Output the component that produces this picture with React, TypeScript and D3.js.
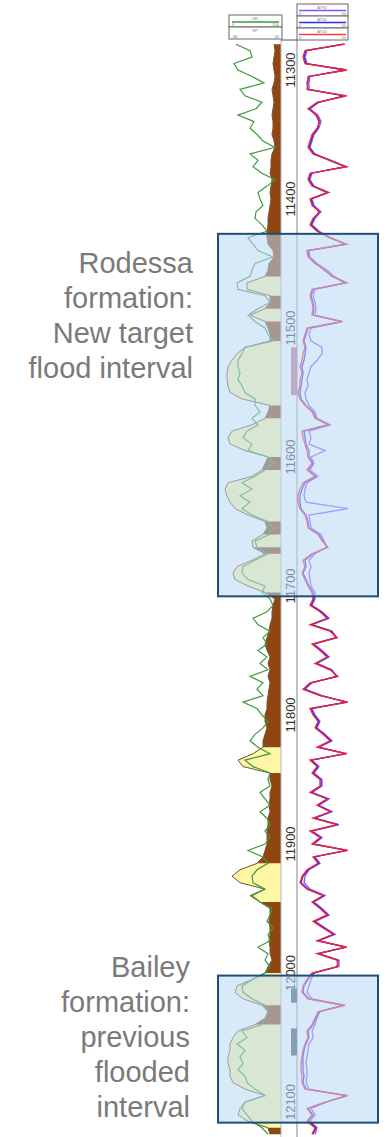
import React from 'react';
import * as d3 from 'd3';

// sample depths (ft), 5 ft spacing
const DEPTH = d3.range(11280, 12126, 5);

// gamma ray (API)
const GR = [
  21, 63, 69, 15, 27, 69, 105, 33, 48, 99, 81, 27,
  75, 63, 84, 102, 138, 63, 87, 72, 99, 138, 114, 87, 93, 102, 81, 78, 99, 114,
  57, 72, 87, 132, 78, 69, 63, 24, 27, 108, 123, 87, 57, 78, 108, 117, 132, 48, 39, 27, 27, 33, 27, 39, 48, 78,
  78, 93, 69, 87, 54, 42, 69, 57, 117, 132, 108, 78, 39, 69, 33, 63, 39, 69, 117, 132, 123, 78, 84, 117, 78, 42, 39, 57, 108, 99,
  123, 132, 114, 72, 87, 123, 102, 114, 87, 114, 93, 117, 63, 102, 84, 102, 42, 84, 99, 117, 102, 78, 63, 87, 123, 48, 72, 123, 117,
  123, 93, 108, 123, 93, 114, 123, 108, 123, 108, 57, 102, 117, 84, 69, 72, 108, 69, 93, 129, 123, 114, 132, 117, 123, 87, 117, 108,
  123, 108, 72, 39, 42, 69, 108, 117, 108, 99, 39, 54, 24, 48, 33, 42, 27, 48, 54, 78, 108, 48, 39, 54, 69, 99, 117,
];

// spontaneous potential (mV)
const SP = [
  10, 12, 10, 8, 10, 12, 10, 6, 8, 10, 8, 6, 8, 8, 6, 10, 12, 6, 4, 4, 2, 6, 4, 2, 4, 2, 0, -2, -2, -4,
  -4, -2, 8, 10, 0, -2, -8, -44, -44, 2, 2, -8, -38, -8, -2, 2, 2, -48, -64, -74, -82, -84, -84, -82, -78, -54,
  2, -2, -8, -34, -74, -82, -78, -48, -2, -8, -14, -34, -82, -88, -84, -78, -68, -42, -8, -4, -12, -34, -32, -8, -34, -64, -72, -68, -42, -8,
  12, 8, 6, 6, 2, 0, -4, -8, -4, 2, -2, 2, -2, 2, 0, -2, -4, -4, -8, -8, -4, -8, -12, -12, -32, -62, -52, 2, 2,
  6, 2, 2, 0, 2, -2, -2, -4, -4, -4, -8, -12, -24, -58, -74, -58, -8, -38, -18, 2, 2, 0, 2, 2, 0, 2, 2, 6,
  -2, -8, -34, -64, -68, -52, -14, -2, -8, -28, -62, -72, -78, -78, -82, -82, -78, -78, -72, -48, -8, -48, -58, -62, -42, -2, 2,
];
const SAND_CUTOFF = -20;

// resistivity (ohm.m): deep (purple), medium (blue), shallow (red)
const RES_DEEP = [
  46, 10, 8, 10, 48, 13, 12, 12, 47, 22, 13, 21,
  24, 22, 17, 15, 13, 18, 32, 48, 15, 13, 17, 32, 15, 17, 24, 18, 15, 22,
  34, 48, 12, 13, 20, 30, 37, 49, 18, 16, 18, 19, 18, 46, 14, 12, 14, 25, 25, 20, 14, 12, 10, 11, 8, 9,
  12, 18, 20, 33, 12, 14, 12, 28, 14, 17, 13, 21, 10, 8, 7, 9, 51, 12, 13, 14, 24, 27, 30, 18, 12, 14, 12, 13, 14, 18,
  18, 15, 25, 32, 15, 35, 40, 17, 25, 32, 20, 35, 39, 15, 8, 25, 49, 15, 18, 23, 20, 28, 35, 22, 48, 15, 22, 17, 25,
  25, 15, 32, 22, 35, 18, 42, 15, 25, 17, 49, 18, 23, 12, 8, 7, 13, 28, 17, 25, 32, 18, 28, 38, 22, 48, 22, 42,
  42, 17, 14, 12, 10, 15, 46, 23, 20, 18, 15, 16, 12, 11, 10, 9, 10, 10, 9, 12, 49, 30, 14, 18, 13, 20, 18,
];
const RES_MED = [
  47, 9, 7, 9, 49, 12, 10, 11, 48, 21, 12, 19,
  22, 21, 16, 14, 12, 17, 34, 49, 14, 12, 16, 30, 14, 16, 22, 17, 14, 21,
  32, 49, 11, 12, 19, 27, 36, 48, 16, 14, 16, 17, 16, 44, 11, 9, 7, 9, 8, 7, 5, 6, 5, 4, 3, 4,
  9, 16, 19, 32, 7, 8, 9, 12, 12, 16, 11, 19, 8, 5, 3, 3, 4, 9, 11, 12, 22, 26, 30, 16, 8, 9, 6, 9, 12, 16,
  17, 14, 24, 31, 14, 34, 39, 16, 24, 31, 19, 34, 40, 14, 7, 24, 50, 14, 17, 22, 19, 27, 34, 21, 49, 14, 21, 16, 24,
  24, 14, 31, 21, 34, 17, 41, 14, 24, 16, 50, 17, 22, 11, 6, 4, 11, 27, 16, 24, 31, 17, 27, 37, 21, 49, 21, 41,
  40, 16, 11, 7, 6, 12, 47, 22, 19, 16, 11, 12, 9, 7, 6, 6, 6, 7, 6, 9, 50, 29, 11, 16, 11, 19, 16,
];
const RES_SHALLOW = [
  48, 8, 6, 8, 50, 11, 11, 10, 50, 20, 11, 20,
  23, 20, 15, 13, 11, 16, 33, 50, 13, 11, 15, 31, 13, 15, 23, 16, 13, 20,
  33, 50, 10, 11, 18, 28, 35, 50, 15, 13, 15, 16, 15, 45, 10, 8, 6, 8, 6, 5, 3, 5, 3, 3, 1, 3,
  8, 15, 18, 31, 5, 6, 8, 10, 11, 15, 10, 18, 6, 3, 1, 1, 3, 8, 10, 11, 21, 25, 31, 15, 6, 8, 5, 8, 11, 15,
  16, 13, 23, 30, 13, 33, 40, 15, 23, 30, 18, 33, 41, 13, 6, 23, 51, 13, 16, 21, 18, 26, 33, 20, 50, 13, 20, 15, 23,
  23, 13, 30, 20, 33, 16, 40, 13, 23, 15, 51, 16, 21, 10, 5, 3, 10, 26, 15, 23, 30, 16, 26, 36, 20, 50, 20, 40,
  41, 15, 10, 6, 5, 11, 48, 21, 18, 15, 10, 11, 8, 6, 5, 4, 4, 5, 5, 8, 51, 28, 10, 15, 10, 18, 15,
];

const DEPTH_TICKS = [11300, 11400, 11500, 11600, 11700, 11800, 11900, 12000, 12100];

// formation intervals highlighted
const ZONE_TOPS = [11427, 12002];
const ZONE_BASES = [11708, 12116];
const ZONE_LABELS = [
  ['Rodessa', 'formation:', 'New target', 'flood interval'],
  ['Bailey', 'formation:', 'previous', 'flooded', 'interval'],
];

// perforation intervals
const PERF_TOPS = [11515, 12012, 12043];
const PERF_BASES = [11552, 12023, 12064];

const W = 390;
const H = 1137;
const TRACK_TOP = 40;
const LEFT_R = 281;
const DEPTH_R = 297;

const y = d3.scaleLinear().domain([11300, 12100]).range([70, 1102]);
const xGR = d3.scaleLinear().domain([0, 150]).range([229, 279]);
const xSP = d3.scaleLinear().domain([-80, 20]).range([229, 279]);
const xRes = d3.scaleLinear().domain([0, 50]).range([297, 347]);

const idx = DEPTH.map((_, i) => i);

const curve = (vals: number[], sx: d3.ScaleLinear<number, number>) =>
  d3.line<number>().x(i => sx(vals[i])).y(i => y(DEPTH[i]))(idx) || '';

const spArea = d3.area<number>()
  .x0(i => xSP(SP[i]))
  .x1(LEFT_R)
  .y(i => y(DEPTH[i]));

// group consecutive sand segments into runs
const sandRuns: number[][] = [];
let run: number[] | null = null;
for (let i = 0; i < DEPTH.length - 1; i++) {
  const sand = (SP[i] + SP[i + 1]) / 2 < SAND_CUTOFF;
  if (sand) {
    if (!run) { run = [i]; sandRuns.push(run); }
    run.push(i + 1);
  } else {
    run = null;
  }
}

const FONT = 'Liberation Sans, Arial, sans-serif';

export default function App() {
  const zoneFill = 'rgba(186,216,246,0.56)';
  return (
    <svg width={W} height={H} viewBox={`0 0 ${W} ${H}`}
      style={{ position: 'absolute', left: 0, top: 0, background: '#fff' }}>
      <defs>
        <linearGradient id="spGrad" x1="0" x2="1" y1="0" y2="0">
          <stop offset="0" stopColor="#fbf0d0" />
          <stop offset="1" stopColor="#9a5518" />
        </linearGradient>
      </defs>

      {/* left track: SP shading + GR */}
      <path d={spArea(idx) || ''} fill="#8f4610" />
      {sandRuns.map((r, k) => (
        <path key={k} d={spArea(r) || ''} fill="#fff7a6" />
      ))}
      <path d={curve(SP, xSP)} fill="none" stroke="#7a5636" strokeWidth={1} />
      <path d={curve(GR, xGR)} fill="none" stroke="#3d9b3d" strokeWidth={1.2} />

      {/* depth track */}
      <line x1={LEFT_R} x2={LEFT_R} y1={TRACK_TOP} y2={H} stroke="#b8b8b8" />
      <line x1={DEPTH_R} x2={DEPTH_R} y1={TRACK_TOP} y2={H} stroke="#9a9a9a" strokeWidth={1.2} />
      <line x1={LEFT_R} x2={DEPTH_R} y1={TRACK_TOP} y2={TRACK_TOP} stroke="#555" />
      {DEPTH_TICKS.map(d => (
        <text key={d} transform={`translate(290,${y(d)}) rotate(-90)`} textAnchor="middle"
          dominantBaseline="central" fontSize={13} fontFamily={FONT} fill="#333">{d}</text>
      ))}
      {PERF_TOPS.map((t, k) => (
        <rect key={k} x={291} width={6} y={y(t)} height={y(PERF_BASES[k]) - y(t)}
          fill={k === 0 ? '#c07090' : '#4a555c'} />
      ))}

      {/* right track: resistivity */}
      <path d={curve(RES_DEEP, xRes)} fill="none" stroke="#8a4dff" strokeWidth={1.3} />
      <path d={curve(RES_MED, xRes)} fill="none" stroke="#2a2aff" strokeWidth={1.3} />
      <path d={curve(RES_SHALLOW, xRes)} fill="none" stroke="#ff2222" strokeWidth={1.3} />

      {/* headers */}
      <g fontFamily={FONT} fontSize={4} fill="#777" textAnchor="middle">
        <rect x={229} y={15} width={53} height={12} fill="#fff" stroke="#666" />
        <rect x={229} y={27} width={53} height={12} fill="#fff" stroke="#666" />
        <text x={255} y={19.5}>GR</text>
        <line x1={232} x2={279} y1={22} y2={22} stroke="#3d9b3d" strokeWidth={1.6} />
        <text x={232} y={26} textAnchor="start">0</text>
        <text x={279} y={26} textAnchor="end">150</text>
        <text x={255} y={31.5}>SP</text>
        <line x1={232} x2={279} y1={34} y2={34} stroke="url(#spGrad)" strokeWidth={1.6} />
        <text x={232} y={38} textAnchor="start">-80</text>
        <text x={279} y={38} textAnchor="end">20</text>
        {['AT90', 'AT30', 'AT10'].map((lab, k) => (
          <g key={lab}>
            <rect x={297} y={4 + k * 12} width={51} height={12} fill="#fff" stroke="#666" />
            <text x={322} y={8.5 + k * 12}>{lab}</text>
            <line x1={299} x2={346} y1={10.5 + k * 12} y2={10.5 + k * 12}
              stroke={['#8a4dff', '#2a2aff', '#ff3b3b'][k]} strokeWidth={1.6} />
            <text x={299} y={15 + k * 12} textAnchor="start">0</text>
            <text x={346} y={15 + k * 12} textAnchor="end">50</text>
          </g>
        ))}
      </g>

      {/* highlighted formations */}
      {ZONE_TOPS.map((t, k) => (
        <rect key={k} x={218} width={160} y={y(t)} height={y(ZONE_BASES[k]) - y(t)}
          fill={zoneFill} stroke="#1f4e79" strokeWidth={2} />
      ))}
      {ZONE_LABELS.map((lines, k) => (
        <text key={k} fontFamily={FONT} fontSize={29} fill="#7a7a7a" textAnchor="end">
          {lines.map((ln, j) => (
            <tspan key={j} x={k === 0 ? 193 : 190} y={(k === 0 ? 273 : 977) + j * 35}>{ln}</tspan>
          ))}
        </text>
      ))}
    </svg>
  );
}
